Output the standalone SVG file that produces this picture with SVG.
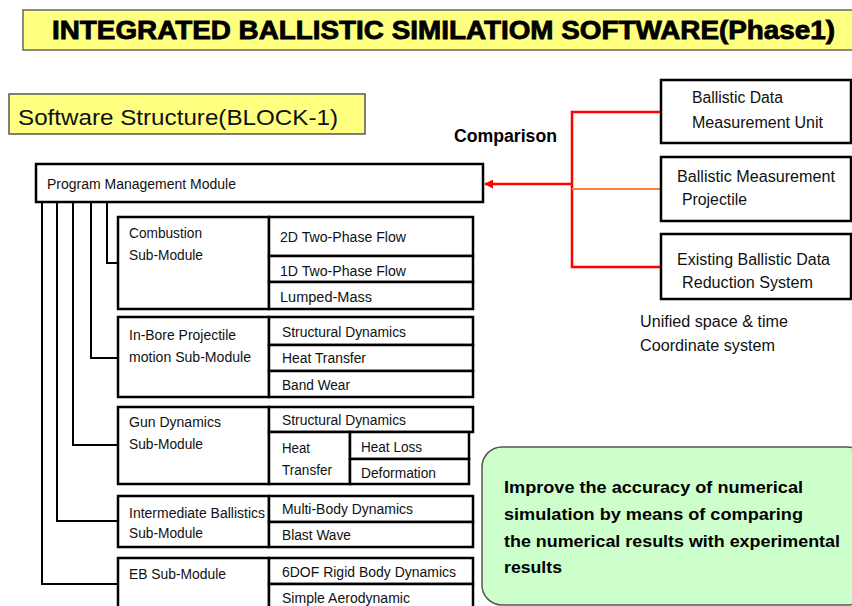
<svg xmlns="http://www.w3.org/2000/svg" width="852" height="606" viewBox="0 0 852 606">
<defs>
<style>
.bx{fill:#fff;stroke:#000;stroke-width:2.5}
.t{font-family:"Liberation Sans",Arial,sans-serif;font-size:14px;fill:#111}
.r{font-family:"Liberation Sans",Arial,sans-serif;font-size:16px;fill:#111}
.b{font-family:"Liberation Sans",Arial,sans-serif;font-weight:bold;fill:#000}
.cn{fill:none;stroke:#000;stroke-width:2}
</style>
<marker id="ar" viewBox="0 0 10 10" refX="9" refY="5" markerWidth="9" markerHeight="9" markerUnits="userSpaceOnUse" orient="auto">
<path d="M0,0 L10,5 L0,10 z" fill="#ff0000"/>
</marker>
</defs>
<rect width="852" height="606" fill="#fff"/>

<g id="title">
<rect x="23" y="10" width="832" height="40" fill="#ffff80" stroke="#666" stroke-width="1.5"/>
<text class="b" x="52" y="39" font-size="25" stroke="#000" stroke-width="0.8" textLength="783" lengthAdjust="spacingAndGlyphs">INTEGRATED BALLISTIC SIMILATIOM SOFTWARE(Phase1)</text>
</g>

<g id="block-label">
<rect x="9" y="94" width="356" height="40" fill="#ffff80" stroke="#555" stroke-width="1.5"/>
<text x="18" y="125" font-family="Liberation Sans,Arial,sans-serif" font-size="22" fill="#111" textLength="320" lengthAdjust="spacingAndGlyphs">Software Structure(BLOCK-1)</text>
</g>

<g id="comparison-label">
<text class="b" x="454" y="142" font-size="18" textLength="103" lengthAdjust="spacingAndGlyphs">Comparison</text>
</g>

<g id="connectors">
<path class="cn" d="M107,202 V263 H118"/>
<path class="cn" d="M91,202 V358 H118"/>
<path class="cn" d="M73,202 V445 H118"/>
<path class="cn" d="M57,202 V521 H118"/>
<path class="cn" d="M42,202 V584 H118"/>
<path d="M660,112 H572 V267 H660" fill="none" stroke="#ff0000" stroke-width="2.5"/>
<path d="M572,189 H660" fill="none" stroke="#ff8040" stroke-width="2"/>
<path d="M572,184 H485" fill="none" stroke="#ff0000" stroke-width="2.5" marker-end="url(#ar)"/>
</g>

<g id="pmm">
<rect class="bx" x="36" y="164" width="447" height="38"/>
<text class="t" x="47" y="189" textLength="189" lengthAdjust="spacingAndGlyphs">Program Management Module</text>
</g>

<g id="bdmu">
<rect class="bx" x="661" y="80" width="190" height="63"/>
<text class="r" x="692" y="103" textLength="91" lengthAdjust="spacingAndGlyphs">Ballistic Data</text>
<text class="r" x="692" y="128" textLength="131" lengthAdjust="spacingAndGlyphs">Measurement Unit</text>
</g>

<g id="bmp">
<rect class="bx" x="661" y="157" width="190" height="64"/>
<text class="r" x="677" y="182" textLength="158" lengthAdjust="spacingAndGlyphs">Ballistic Measurement</text>
<text class="r" x="682" y="205" textLength="65" lengthAdjust="spacingAndGlyphs">Projectile</text>
</g>

<g id="ebdrs">
<rect class="bx" x="661" y="234" width="190" height="65"/>
<text class="r" x="677" y="265" textLength="153" lengthAdjust="spacingAndGlyphs">Existing Ballistic Data</text>
<text class="r" x="682" y="288" textLength="131" lengthAdjust="spacingAndGlyphs">Reduction System</text>
</g>

<g id="coord-note">
<text class="r" x="640" y="327" textLength="148" lengthAdjust="spacingAndGlyphs">Unified space &amp; time</text>
<text class="r" x="640" y="351" textLength="135" lengthAdjust="spacingAndGlyphs">Coordinate system</text>
</g>

<g id="combustion">
<rect class="bx" x="118" y="217" width="151" height="92"/>
<rect class="bx" x="269" y="217" width="204" height="39"/>
<rect class="bx" x="269" y="256" width="204" height="26"/>
<rect class="bx" x="269" y="282" width="204" height="27"/>
<text class="t" x="129" y="238" textLength="73" lengthAdjust="spacingAndGlyphs">Combustion</text>
<text class="t" x="129" y="260" textLength="74" lengthAdjust="spacingAndGlyphs">Sub-Module</text>
<text class="t" x="280" y="242" textLength="126" lengthAdjust="spacingAndGlyphs">2D Two-Phase Flow</text>
<text class="t" x="280" y="276" textLength="126" lengthAdjust="spacingAndGlyphs">1D Two-Phase Flow</text>
<text class="t" x="280" y="302" textLength="92" lengthAdjust="spacingAndGlyphs">Lumped-Mass</text>
</g>

<g id="inbore">
<rect class="bx" x="118" y="317" width="151" height="80"/>
<rect class="bx" x="269" y="317" width="204" height="28"/>
<rect class="bx" x="269" y="345" width="204" height="26"/>
<rect class="bx" x="269" y="371" width="204" height="26"/>
<text class="t" x="129" y="340" textLength="107" lengthAdjust="spacingAndGlyphs">In-Bore Projectile</text>
<text class="t" x="129" y="362" textLength="122" lengthAdjust="spacingAndGlyphs">motion Sub-Module</text>
<text class="t" x="282" y="337" textLength="124" lengthAdjust="spacingAndGlyphs">Structural Dynamics</text>
<text class="t" x="282" y="363" textLength="84" lengthAdjust="spacingAndGlyphs">Heat Transfer</text>
<text class="t" x="282" y="390" textLength="68" lengthAdjust="spacingAndGlyphs">Band Wear</text>
</g>

<g id="gundyn">
<rect class="bx" x="118" y="407" width="151" height="77"/>
<rect class="bx" x="269" y="407" width="204" height="25"/>
<rect class="bx" x="269" y="432" width="81" height="52"/>
<rect class="bx" x="350" y="432" width="119" height="27"/>
<rect class="bx" x="350" y="459" width="119" height="25"/>
<text class="t" x="129" y="427" textLength="92" lengthAdjust="spacingAndGlyphs">Gun Dynamics</text>
<text class="t" x="129" y="449" textLength="74" lengthAdjust="spacingAndGlyphs">Sub-Module</text>
<text class="t" x="282" y="425" textLength="124" lengthAdjust="spacingAndGlyphs">Structural Dynamics</text>
<text class="t" x="282" y="453" textLength="28" lengthAdjust="spacingAndGlyphs">Heat</text>
<text class="t" x="282" y="475" textLength="50" lengthAdjust="spacingAndGlyphs">Transfer</text>
<text class="t" x="361" y="452" textLength="61" lengthAdjust="spacingAndGlyphs">Heat Loss</text>
<text class="t" x="361" y="478" textLength="75" lengthAdjust="spacingAndGlyphs">Deformation</text>
</g>

<g id="intermediate">
<rect class="bx" x="118" y="496" width="151" height="51"/>
<rect class="bx" x="269" y="496" width="204" height="26"/>
<rect class="bx" x="269" y="522" width="204" height="25"/>
<text class="t" x="129" y="518" textLength="136" lengthAdjust="spacingAndGlyphs">Intermediate Ballistics</text>
<text class="t" x="129" y="538" textLength="74" lengthAdjust="spacingAndGlyphs">Sub-Module</text>
<text class="t" x="282" y="514" textLength="131" lengthAdjust="spacingAndGlyphs">Multi-Body Dynamics</text>
<text class="t" x="282" y="540" textLength="69" lengthAdjust="spacingAndGlyphs">Blast Wave</text>
</g>

<g id="eb">
<rect class="bx" x="118" y="558" width="151" height="60"/>
<rect class="bx" x="269" y="558" width="204" height="26"/>
<rect class="bx" x="269" y="584" width="204" height="34"/>
<text class="t" x="129" y="579" textLength="97" lengthAdjust="spacingAndGlyphs">EB Sub-Module</text>
<text class="t" x="282" y="577" textLength="174" lengthAdjust="spacingAndGlyphs">6DOF Rigid Body Dynamics</text>
<text class="t" x="282" y="603" textLength="128" lengthAdjust="spacingAndGlyphs">Simple Aerodynamic</text>
</g>

<g id="goal">
<rect x="482" y="447" width="385" height="158" rx="20" ry="20" fill="#ccffcc" stroke="#555" stroke-width="1.5"/>
<text class="b" x="504" y="493" font-size="17" textLength="299" lengthAdjust="spacingAndGlyphs">Improve the accuracy of numerical</text>
<text class="b" x="504" y="520" font-size="17" textLength="299" lengthAdjust="spacingAndGlyphs">simulation by means of comparing</text>
<text class="b" x="504" y="547" font-size="17" textLength="336" lengthAdjust="spacingAndGlyphs">the numerical results with experimental</text>
<text class="b" x="504" y="573" font-size="17" textLength="58" lengthAdjust="spacingAndGlyphs">results</text>
</g>
</svg>
